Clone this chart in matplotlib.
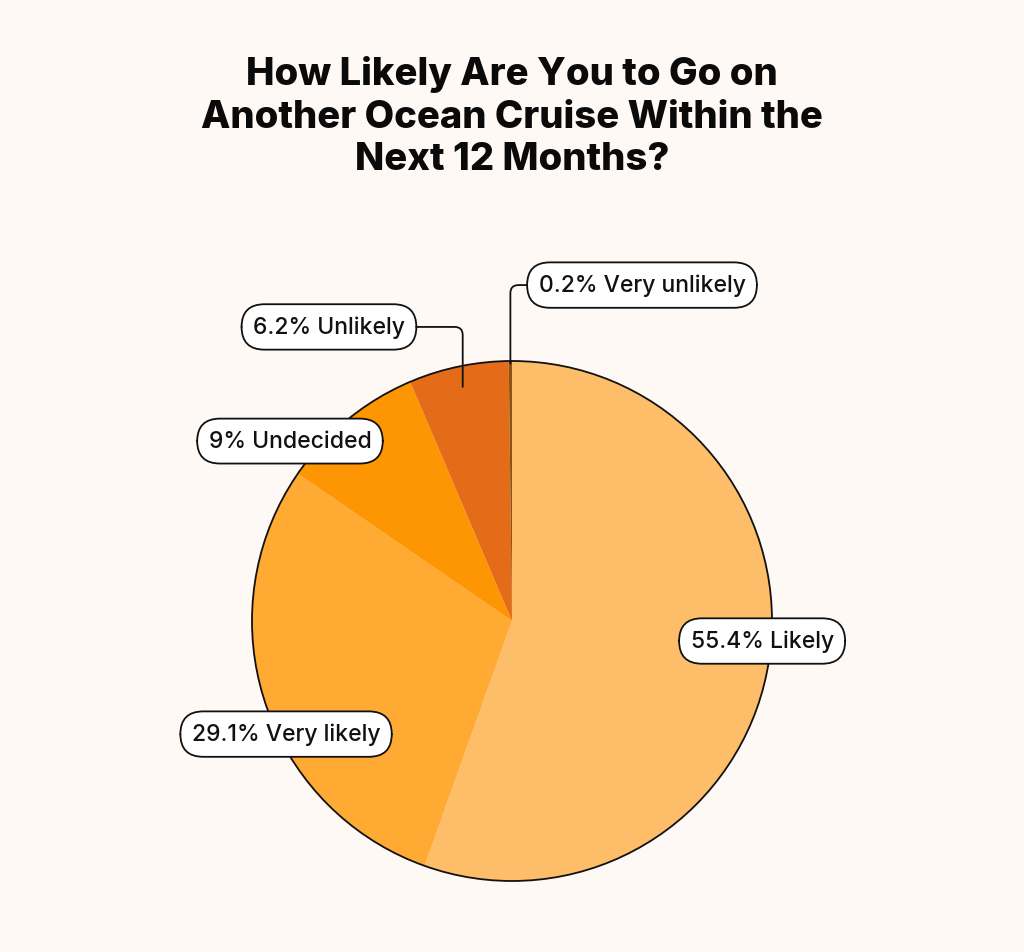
import matplotlib
matplotlib.use("Agg")
import matplotlib.pyplot as plt
import numpy as np

# ----- data -----
categories = ["Likely", "Very likely", "Undecided", "Unlikely", "Very unlikely"]
shares = [55.4, 29.1, 9.0, 6.2, 0.2]
share_labels = ["55.4%", "29.1%", "9%", "6.2%", "0.2%"]
colors = ["#FEBE69", "#FEAA33", "#FE9503", "#E46B18", "#8A5416"]

# label box centres (pie radius units, pie centred at 0,0) and leader flags
label_pos = [(0.962, -0.077), (-0.869, -0.435), (-0.854, 0.692),
             (-0.704, 1.131), (0.50, 1.292)]
leader = [False, False, False, True, True]

BG = "#FFF9F5"
W, H = 1024, 953
CX, CY, R = 512, 622, 260  # pie centre / radius in pixels

plt.rcParams["font.family"] = ["Inter", "DejaVu Sans"]

fig = plt.figure(figsize=(W / 100, H / 100), dpi=100, facecolor=BG)
ax = fig.add_axes([0, 0, 1, 1])
ax.set_facecolor(BG)

wedges, _ = ax.pie(shares, colors=colors, startangle=90, counterclock=False,
                   radius=1.0, center=(0, 0), frame=True,
                   wedgeprops=dict(linewidth=0))
ax.set_xlim(-CX / R, (W - CX) / R)
ax.set_ylim(-(H - CY) / R, CY / R)
ax.set_aspect("equal")
ax.axis("off")
ax.add_patch(plt.Circle((0, 0), 1.0, fill=False, edgecolor="#111111", lw=1.3))

box = dict(boxstyle="round,pad=0.5,rounding_size=1.0", fc="white",
           ec="#111111", lw=1.3)
fs = 16.5

for w, cat, lab, pos, lead in zip(wedges, categories, share_labels, label_pos, leader):
    text = f"{lab} {cat}"
    if lead:
        mid = np.deg2rad((w.theta1 + w.theta2) / 2)
        rr = 0.92 if w.theta2 - w.theta1 > 5 else 0.99
        xy = (rr * np.cos(mid), rr * np.sin(mid))
        ax.annotate(text, xy=xy, xytext=pos, ha="center", va="center",
                    fontsize=fs, fontweight="medium", color="#111111", bbox=box,
                    arrowprops=dict(arrowstyle="-", color="#111111", lw=1.3,
                                    shrinkA=0, shrinkB=0,
                                    connectionstyle="angle,angleA=0,angleB=90,rad=8"))
    else:
        ax.text(pos[0], pos[1], text, ha="center", va="center", fontsize=fs,
                fontweight="medium", color="#111111", bbox=box)

fig.text(0.5, 1 - 117 / H,
         "How Likely Are You to Go on\nAnother Ocean Cruise Within the\nNext 12 Months?",
         ha="center", va="center", fontsize=27.5, fontweight="heavy",
         linespacing=1.24, color="#0A0A0A")

fig.savefig("out.png", dpi=100, facecolor=BG)
